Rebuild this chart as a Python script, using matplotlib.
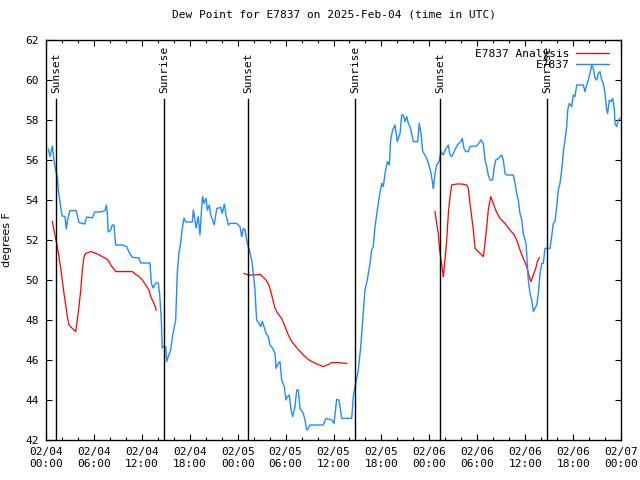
import pandas as pd
import matplotlib
matplotlib.use("Agg")
import matplotlib.pyplot as plt
import matplotlib.dates as mdates

plt.rcParams["font.family"] = "DejaVu Sans Mono"
plt.rcParams["font.size"] = 8

start = pd.Timestamp("2025-02-04 00:00")

# station observations: hours since 02/04 00:00 UTC, dew point (F)
obs_hours = [0.29, 0.50, 0.79, 1.00, 1.25, 1.41, 1.54, 1.75, 1.97, 2.04, 2.38, 2.54, 2.75, 3.00,
             3.79, 4.13, 4.55, 4.85, 5.10, 5.80, 6.10, 6.85, 7.39, 7.55, 7.68, 7.80, 8.10, 8.30,
             8.51, 8.73, 9.55, 10.10, 10.39, 10.81, 11.65, 11.86, 13.02, 13.19, 13.40, 13.74,
             14.06, 14.24, 14.44, 14.56, 14.69, 14.99, 15.11, 15.31, 15.61, 15.87, 16.24, 16.44,
             16.65, 16.87, 17.07, 17.28, 17.49, 18.32, 18.44, 18.57, 18.78, 19.07, 19.28, 19.50,
             19.62, 19.78, 20.04, 20.20, 20.45, 20.62, 20.87, 21.07, 21.38, 21.88, 22.08, 22.33,
             22.54, 22.83, 23.04, 23.88, 24.29, 24.51, 24.71, 24.92, 25.21, 25.46, 25.76, 25.96,
             26.17, 26.30, 26.38, 26.67, 26.88, 27.09, 27.30, 27.55, 27.84, 28.05, 28.39, 28.68,
             28.80, 29.09, 29.30, 29.51, 29.84, 30.05, 30.22, 30.47, 30.68, 30.89, 31.18, 31.39,
             31.59, 31.81, 32.22, 32.43, 32.64, 32.85, 33.06, 34.72, 35.06, 35.78, 36.06, 36.40,
             36.69, 37.03, 38.28, 38.48, 38.78, 39.11, 39.41, 39.66, 39.94, 40.23, 40.57, 40.78,
             40.98, 41.20, 41.49, 41.74, 42.04, 42.24, 42.45, 42.74, 42.99, 43.16, 43.41, 43.70,
             43.99, 44.33, 44.54, 44.74, 44.95, 45.17, 45.37, 45.58, 45.79, 45.99, 46.54, 46.74,
             46.96, 47.17, 47.46, 47.75, 48.00, 48.17, 48.42, 48.50, 48.71, 48.92, 49.21, 49.46,
             49.75, 50.09, 50.38, 50.59, 50.80, 51.21, 51.50, 51.93, 52.13, 52.34, 52.55, 52.88,
             53.09, 53.93, 54.26, 54.47, 54.76, 54.97, 55.19, 55.38, 55.60, 55.93, 56.10, 56.31,
             56.64, 57.06, 57.26, 57.48, 57.69, 58.52, 58.73, 58.94, 59.14, 59.35, 59.57, 59.77,
             60.11, 60.27, 60.39, 60.61, 60.82, 61.02, 61.23, 61.45, 61.65, 61.86, 62.07, 62.27,
             62.48, 63.11, 63.32, 63.52, 63.74, 63.95, 64.15, 64.36, 64.58, 64.78, 64.99, 65.20,
             65.33, 65.53, 65.83, 66.03, 66.24, 66.45, 67.28, 67.49, 67.70, 67.91, 68.12, 68.33,
             68.53, 68.75, 68.96, 69.16, 69.37, 69.58, 69.78, 70.00, 70.21, 70.33, 70.54, 70.75,
             70.96, 71.16, 71.25, 71.46, 71.67, 71.88]
obs_dewpt = [56.55, 56.17, 56.7, 56.0, 55.4, 55.2, 54.5, 53.9, 53.3, 53.2, 53.17, 52.55, 53.1, 53.47,
             53.47, 52.87, 52.83, 52.8, 53.15, 53.1, 53.4, 53.4, 53.47, 53.75, 53.33, 52.4, 52.5, 52.75,
             52.75, 51.75, 51.75, 51.67, 51.4, 51.13, 51.1, 50.85, 50.85, 49.85, 49.6, 49.85,
             49.85, 49.25, 48.0, 46.6, 46.67, 46.67, 45.92, 46.17, 46.5, 47.25, 48.0, 50.35,
             51.35, 51.9, 52.6, 53.1, 52.9, 52.9, 53.5, 53.25, 52.6, 53.17, 52.25, 53.67,
             54.17, 53.83, 54.08, 53.5, 53.75, 53.25, 53.0, 52.75, 53.58, 53.63, 53.33, 53.8,
             53.25, 52.75, 52.83, 52.83, 52.67, 52.17, 52.58, 52.5, 51.83, 51.5, 51.0, 50.33,
             49.5, 48.5, 48.0, 47.83, 47.67, 47.92, 47.67, 47.33, 47.17, 46.75, 46.58, 46.33,
             45.58, 45.83, 45.92, 45.0, 44.67, 44.0, 44.17, 44.25, 43.5, 43.17, 43.67, 44.5,
             44.5, 43.58, 43.33, 43.0, 42.5, 42.58, 42.75, 42.75, 43.08, 43.0, 42.83, 44.03,
             44.0, 43.08, 43.08, 44.17, 44.83, 45.5, 46.67, 48.0, 49.5, 50.0, 50.83, 51.5,
             51.67, 52.67, 53.5, 54.17, 54.83, 54.67, 55.33, 55.92, 55.75, 57.0, 57.5, 57.75,
             56.92, 57.33, 58.25, 58.25, 57.92, 58.17, 57.83, 57.67, 57.33, 56.92, 56.92, 57.83,
             57.33, 56.42, 56.25, 56.0, 55.67, 55.42, 54.83, 54.58, 55.33, 55.75, 55.92, 56.42,
             56.25, 56.58, 56.75, 56.25, 56.17, 56.5, 56.75, 56.92, 57.08, 56.58, 56.42, 56.42,
             56.67, 56.7, 56.87, 57.0, 56.83, 56.0, 55.67, 55.25, 55.0, 55.0, 55.58, 56.0,
             56.08, 56.25, 56.0, 55.33, 55.25, 55.25, 54.83, 54.33, 54.0, 53.33, 53.0, 52.33,
             51.83, 50.83, 50.0, 49.33, 49.0, 48.42, 48.58, 48.75, 49.33, 50.33, 50.83, 50.83,
             51.58, 51.58, 52.17, 52.83, 52.92, 53.67, 54.5, 54.83, 55.5, 56.42, 57.0, 57.67,
             58.5, 58.83, 58.67, 59.25, 59.17, 59.75, 59.75, 59.42, 59.75, 60.0, 60.33, 60.75,
             60.58, 60.08, 60.0, 60.33, 60.42, 60.0, 59.83, 59.33, 58.5, 58.33, 59.0, 58.92,
             59.08, 58.58, 57.83, 57.67, 58.0, 58.08]

# analysis, three separate night-time runs
ana_hours_1 = [0.79, 1.00, 1.21, 1.41, 1.63, 1.84, 2.04, 2.25, 2.47, 2.67, 2.88, 3.29, 3.72, 3.92,
               4.13, 4.35, 4.55, 4.76, 4.97, 5.60, 6.01, 6.42, 7.05, 7.68, 7.89, 8.10, 8.43, 8.73,
               10.81, 11.23, 11.65, 12.06, 12.48, 12.90, 13.11, 13.31, 13.52, 13.81]
ana_dewpt_1 = [52.92, 52.5, 52.08, 51.67, 51.17, 50.58, 50.0, 49.33, 48.75, 48.17, 47.75, 47.58, 47.42, 48.0,
               48.67, 49.5, 50.5, 51.17, 51.33, 51.42, 51.37, 51.3, 51.17, 51.03, 50.92, 50.75, 50.58, 50.42,
               50.42, 50.28, 50.17, 50.0, 49.75, 49.5, 49.17, 49.0, 48.83, 48.5]
ana_hours_2 = [24.79, 25.33, 25.96, 26.80, 27.13, 27.55, 27.92, 28.26, 28.68, 29.01, 29.51, 29.93,
               30.34, 30.77, 31.39, 32.22, 33.06, 33.90, 34.72, 35.22, 35.78, 36.60, 37.65]
ana_dewpt_2 = [50.33, 50.25, 50.25, 50.28, 50.17, 50.0, 49.75, 49.25, 48.58, 48.33, 48.08, 47.67,
               47.25, 46.92, 46.62, 46.25, 45.97, 45.8, 45.67, 45.75, 45.87, 45.87, 45.83]
ana_hours_3 = [48.71, 48.92, 49.12, 49.25, 49.46, 49.67, 49.75, 49.96, 50.18, 50.38, 50.59, 50.80,
               51.43, 52.05, 52.68, 52.88, 53.09, 53.30, 53.51, 53.72, 54.13, 54.76, 54.97, 55.19,
               55.38, 55.69, 55.93, 56.22, 56.51, 56.85, 57.48, 58.10, 58.64, 59.02, 59.35, 59.77,
               60.19, 60.52, 60.73, 61.02, 61.32, 61.53, 61.77]
ana_dewpt_3 = [53.42, 52.83, 52.33, 51.67, 51.0, 50.42, 50.17, 51.0, 52.0, 53.33, 54.17, 54.75,
               54.8, 54.8, 54.75, 54.58, 53.83, 53.17, 52.5, 51.58, 51.42, 51.17, 51.83, 52.67,
               53.5, 54.17, 53.92, 53.58, 53.33, 53.08, 52.83, 52.5, 52.25, 51.92, 51.5, 51.08,
               50.67, 50.17, 49.92, 50.25, 50.58, 50.92, 51.12]

sun_hours = [1.28, 14.80, 25.33, 38.73, 49.38, 62.77]
sun_labels = ["Sunset", "Sunrise", "Sunset", "Sunrise", "Sunset", "Sunrise"]


def to_time(hours):
    return start + pd.to_timedelta(hours, unit="h")


fig = plt.figure(figsize=(6.4, 4.8), dpi=100)
ax = fig.add_axes([46 / 640, 40 / 480, 575 / 640, 400 / 480])

red = "#ff0000"
blue = "#1e8cff"
for h, d, lab in [(ana_hours_1, ana_dewpt_1, "E7837 Analysis"),
                  (ana_hours_2, ana_dewpt_2, None),
                  (ana_hours_3, ana_dewpt_3, None)]:
    ax.plot(to_time(h), d, color=red, lw=0.9, label=lab)
ax.plot(to_time(obs_hours), obs_dewpt, color=blue, lw=1.0, label="E7837")

for h, lab in zip(sun_hours, sun_labels):
    t = to_time(h)
    ax.plot([t, t], [42, 59.05], color="black", lw=1.0)
    ax.text(t, 59.35, lab, rotation=90, ha="center", va="bottom", fontsize=8)

ax.set_xlim(start, start + pd.Timedelta(hours=72))
ax.set_ylim(42, 62)
ax.set_yticks(range(42, 63, 2))
ax.xaxis.set_major_locator(mdates.HourLocator(byhour=[0, 6, 12, 18]))
ax.xaxis.set_minor_locator(mdates.HourLocator(interval=2))
ax.xaxis.set_major_formatter(mdates.DateFormatter("%m/%d\n%H:%M"))
ax.tick_params(which="both", direction="in", top=True, right=True, width=0.8)
ax.tick_params(which="major", length=4.5, pad=5)
ax.tick_params(which="minor", length=2.5)
for s in ax.spines.values():
    s.set_linewidth(1.0)

ax.set_ylabel("degrees F", labelpad=10, family="DejaVu Sans")
ax.set_title("Dew Point for E7837 on 2025-Feb-04 (time in UTC)", fontsize=8, pad=16)

ax.legend(loc="upper right", frameon=False, markerfirst=False, handlelength=3.0,
          borderaxespad=0.4, labelspacing=0.1, handletextpad=0.6, fontsize=8,
          bbox_to_anchor=(0.995, 1.0))

fig.savefig("out.png", dpi=100)
